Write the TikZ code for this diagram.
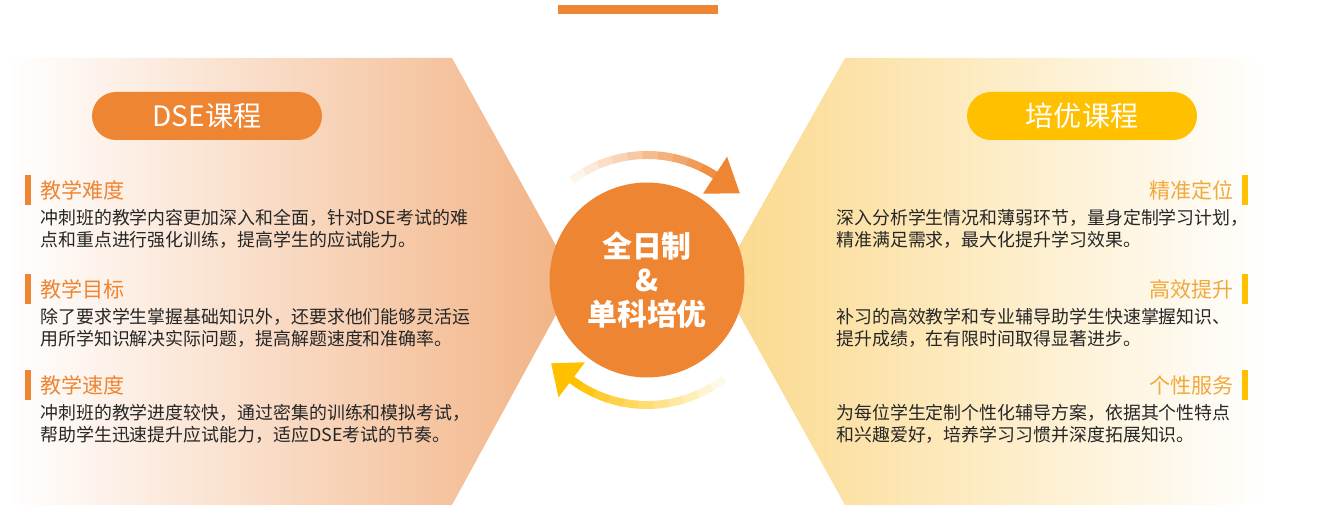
\documentclass[tikz,border=0pt]{standalone}
\usepackage{fontspec}
\setmainfont{Noto Sans CJK SC}
\usetikzlibrary{arrows.meta,calc}
\definecolor{dseorange}{HTML}{EE8533}
\definecolor{peach}{HTML}{F2B283}
\definecolor{goldy}{HTML}{FFC000}
\definecolor{lightgold}{HTML}{FBD98C}
\definecolor{headgold}{HTML}{F2A93B}
\begin{document}
\begin{tikzpicture}[x=0.02cm,y=0.02cm,
  pill/.style={rounded corners=0.48cm,minimum width=4.6cm,minimum height=0.96cm,text=white,font=\fontsize{16}{16}\selectfont},
  head/.style={font=\fontsize{12}{12}\selectfont,inner sep=0pt},
  body/.style={font=\fontsize{10.2}{12.6}\selectfont,text=black!85,inner sep=0pt,align=left}]
\useasboundingbox (0,0) rectangle (1319,506);
% side panels
\shade[left color=white,right color=peach] (8,448) -- (452,448) -- (575,226) -- (452,1) -- (8,1) -- cycle;
\shade[left color=lightgold,right color=white] (845,448) -- (1265,448) -- (1265,1) -- (845,1) -- (720,226) -- cycle;
\fill[dseorange] (558,492) rectangle (718,501);
% centre
\node[circle,fill=dseorange,minimum size=3.9cm,text=white,align=center,
  font=\fontsize{17}{19.5}\selectfont\bfseries] (core) at (647,226) {全日制\\\&\\单科培优};
\foreach \i in {0,...,11}{
  \pgfmathsetmacro{\mix}{100*\i/11}
  \draw[dseorange!\mix!white,line width=0.16cm] ($(core.center)+({134-\i*7}:125)$) arc[start angle={134-\i*7},end angle={134-(\i+1)*7-0.5},radius=125];
  \draw[goldy!\mix!white,line width=0.16cm] ($(core.center)+({-45-\i*7}:125)$) arc[start angle={-45-\i*7},end angle={-45-(\i+1)*7-0.5},radius=125];
}
\fill[dseorange] ($(core.center)+(57:125)+(57:22)$) -- ($(core.center)+(57:125)+(57:-22)$) -- ($(core.center)+(43:127)$) -- cycle;
\fill[goldy] ($(core.center)+(-127:125)+(-127:22)$) -- ($(core.center)+(-127:125)+(-127:-22)$) -- ($(core.center)+(-139:127)$) -- cycle;
% pills
\node[pill,fill=dseorange] (dse) at (207,390) {DSE课程};
\node[pill,fill=goldy] (peiyou) at (1082,390) {培优课程};
% left items
\foreach \y/\h/\a/\b in {316/教学难度/冲刺班的教学内容更加深入和全面，针对DSE考试的难/点和重点进行强化训练，提高学生的应试能力。,
  217/教学目标/除了要求学生掌握基础知识外，还要求他们能够灵活运/用所学知识解决实际问题，提高解题速度和准确率。,
  121/教学速度/冲刺班的教学进度较快，通过密集的训练和模拟考试，/帮助学生迅速提升应试能力，适应DSE考试的节奏。}{
  \fill[dseorange] (25,\y-15) rectangle (31,\y+15);
  \node[head,text=dseorange,anchor=west] (lh\y) at (40,\y) {\h};
  \node[body,anchor=north west] (lb\y) at (40,\y-19) {\a\\\b};
}
% right items
\foreach \y/\h/\a/\b in {316/精准定位/深入分析学生情况和薄弱环节，量身定制学习计划，/精准满足需求，最大化提升学习效果。,
  217/高效提升/补习的高效教学和专业辅导助学生快速掌握知识、/提升成绩，在有限时间取得显著进步。,
  121/个性服务/为每位学生定制个性化辅导方案，依据其个性特点/和兴趣爱好，培养学习习惯并深度拓展知识。}{
  \fill[goldy] (1242,\y-15) rectangle (1248,\y+15);
  \node[head,text=headgold,anchor=east] (rh\y) at (1234,\y) {\h};
  \node[body,anchor=north west] (rb\y) at (836,\y-19) {\a\\\b};
}
\end{tikzpicture}
\end{document}
